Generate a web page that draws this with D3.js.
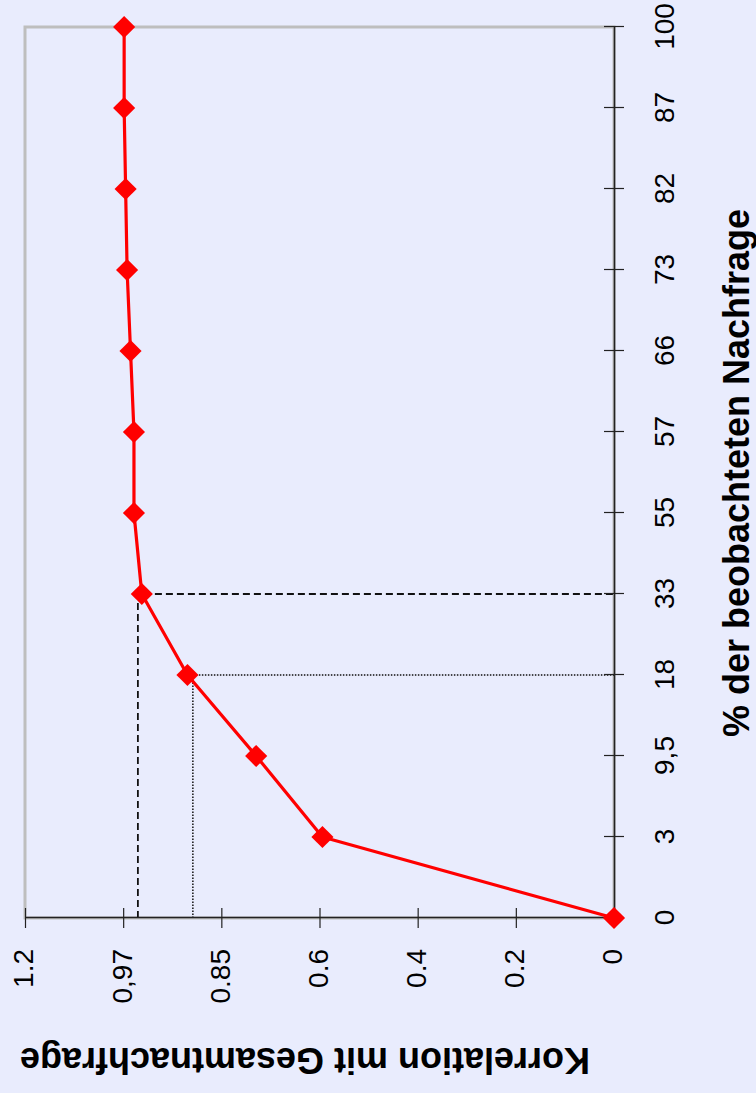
<!DOCTYPE html>
<html>
<head>
<meta charset="utf-8">
<script src="https://cdn.jsdelivr.net/npm/d3@7"></script>
<style>
  html, body { margin: 0; padding: 0; background: #E9ECFD; }
  svg { display: block; }
</style>
</head>
<body>
<script>
// ---- data ----
const categories = ["0", "3", "9,5", "18", "33", "55", "57", "66", "73", "82", "87", "100"];
const correlation = [0, 0.594, 0.729, 0.869, 0.962, 0.978, 0.978, 0.985, 0.992, 0.995, 0.998, 0.998];
const valueTicks = [0, 0.2, 0.4, 0.6, 0.8, 1.0, 1.2];
const valueTickLabels = ["0", "0.2", "0.4", "0.6", "0.85", "0,97", "1.2"];
const refCategories = ["33", "18"];
const refValues = [0.97, 0.858];
const xTitle = "% der beobachteten Nachfrage";
const yTitle = "Korrelation mit Gesamtnachfrage";

// ---- layout ----
const W = 756, H = 1093;
const bg = "#E9ECFD";
const font = "'Liberation Sans', Arial, Helvetica, sans-serif";
const plotW = 891, plotH = 589;   // chart drawn in its own frame, then rotated -90deg

const svg = d3.select("body").append("svg").attr("width", W).attr("height", H);
svg.append("rect").attr("width", W).attr("height", H).attr("fill", bg);

const g = svg.append("g").attr("transform", "translate(25,918) rotate(-90)");

const x = d3.scalePoint().domain(categories).range([0, plotW]);
const y = d3.scaleLinear().domain([0, 1.2]).range([plotH, 0]);

// plot frame
g.append("rect").attr("x", 0).attr("y", 0).attr("width", plotW).attr("height", plotH)
  .attr("fill", bg).attr("stroke", "#BEBEBE").attr("stroke-width", 3);

// reference lines
const refDash = ["7,4", "1.5,1.5"];
const refWidth = [1.8, 1.5];
refCategories.forEach((c, i) => {
  g.append("path")
    .attr("d", d3.line()([[x(categories[0]), y(refValues[i])], [x(c), y(refValues[i])], [x(c), y(0)]]))
    .attr("fill", "none").attr("stroke", "#111").attr("stroke-width", refWidth[i])
    .attr("stroke-dasharray", refDash[i]);
});

// value axis (left in chart frame -> bottom on screen)
const yAxis = g.append("g")
  .call(d3.axisLeft(y).tickValues(valueTicks).tickFormat((d, i) => valueTickLabels[i])
    .tickSizeInner(10).tickSizeOuter(0).tickPadding(21));
yAxis.selectAll(".tick line").attr("x1", 10).attr("stroke", "#222").attr("stroke-width", 1.2);
yAxis.select(".domain").attr("stroke", "#222").attr("stroke-width", 1.6);
yAxis.selectAll("text").attr("font-family", font).attr("font-size", 28).attr("fill", "#000").attr("dy", "0.28em");

// category axis (bottom in chart frame -> right on screen)
const xAxis = g.append("g").attr("transform", `translate(0,${plotH})`)
  .call(d3.axisBottom(x).tickSizeInner(10).tickSizeOuter(0));
xAxis.selectAll(".tick line").attr("y1", -10).attr("stroke", "#222").attr("stroke-width", 1.2);
xAxis.select(".domain").attr("stroke", "#222").attr("stroke-width", 1.6);
xAxis.selectAll("text").attr("font-family", font).attr("font-size", 28).attr("fill", "#000")
  .attr("y", 60).attr("dy", "0");

// data line
g.append("path").datum(correlation)
  .attr("d", d3.line().x((d, i) => x(categories[i])).y(d => y(d)))
  .attr("fill", "none").attr("stroke", "#FF0000").attr("stroke-width", 3.2)
  .attr("stroke-linejoin", "round");

// diamond markers
g.selectAll(".marker").data(correlation).join("path")
  .attr("class", "marker")
  .attr("d", d3.symbol(d3.symbolSquare, 245))
  .attr("transform", (d, i) => `translate(${x(categories[i])},${y(d)}) rotate(45)`)
  .attr("fill", "#FF0000");

// axis titles (screen coordinates)
svg.append("text")
  .attr("transform", "translate(749,473) rotate(-90)")
  .attr("text-anchor", "middle").attr("font-family", font).attr("font-weight", "bold")
  .attr("font-size", 36).attr("fill", "#000").text(xTitle);

svg.append("text")
  .attr("transform", "translate(305,1048) rotate(180)")
  .attr("text-anchor", "middle").attr("font-family", font).attr("font-weight", "bold")
  .attr("font-size", 36).attr("fill", "#000").text(yTitle);
</script>
</body>
</html>
